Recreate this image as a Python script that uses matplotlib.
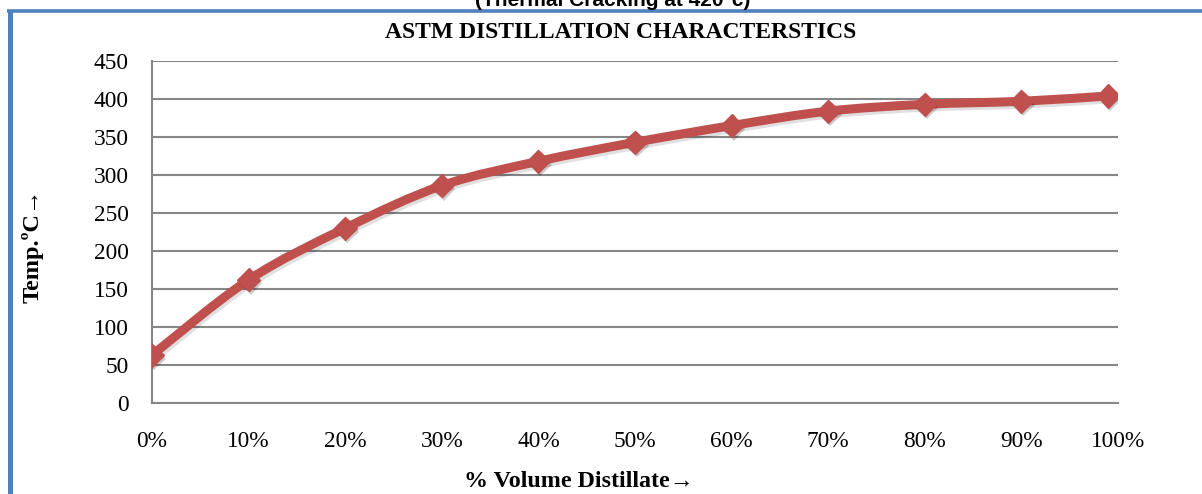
import matplotlib
matplotlib.use("Agg")
import matplotlib.pyplot as plt
from matplotlib.path import Path
from matplotlib.patches import PathPatch
import matplotlib.patheffects as pe
import numpy as np

# Data
volume_pct = [0, 10, 20, 30, 40, 50, 60, 70, 80, 90, 99]
temperature = [63, 162, 230, 286, 318, 343, 365, 384, 393, 397, 404]
x_ticks = [0, 10, 20, 30, 40, 50, 60, 70, 80, 90, 100]
x_tick_labels = ["0%", "10%", "20%", "30%", "40%", "50%", "60%", "70%", "80%", "90%", "100%"]
y_ticks = [0, 50, 100, 150, 200, 250, 300, 350, 400, 450]

LINE_COLOR = "#C0504D"
GRID_COLOR = "#868686"
BORDER_COLOR = "#4F81BD"
SERIF = ["Liberation Serif", "DejaVu Serif"]

W, H = 1202, 494
fig = plt.figure(figsize=(W / 100, H / 100), dpi=100)
fig.patch.set_facecolor("white")

ax = fig.add_axes([152 / W, 1 - 403 / H, (1118 - 152) / W, (403 - 61) / H])
ax.set_xlim(0, 100)
ax.set_ylim(0, 450)
ax.set_yticks(y_ticks)
ax.set_xticks(x_ticks)
ax.set_xticklabels(x_tick_labels)
for lab in ax.get_xticklabels() + ax.get_yticklabels():
    lab.set_fontfamily(SERIF)
    lab.set_fontsize(16.8)
ax.tick_params(axis="both", length=0)
ax.tick_params(axis="y", pad=17)
ax.tick_params(axis="x", pad=20)
ax.grid(axis="y", color=GRID_COLOR, linewidth=1.5)
ax.set_axisbelow(True)
for s in ["top", "right"]:
    ax.spines[s].set_visible(False)
for s in ["left", "bottom"]:
    ax.spines[s].set_color(GRID_COLOR)
    ax.spines[s].set_linewidth(1.5)

# Smoothed line (Excel-style Bezier through data points)
xs = np.array(volume_pct, dtype=float)
ys = np.array(temperature, dtype=float)
pts = np.column_stack([xs, ys])
verts = [tuple(pts[0])]
codes = [Path.MOVETO]
n = len(pts)
for i in range(n - 1):
    p_prev = pts[i - 1] if i > 0 else pts[i]
    p0 = pts[i]
    p1 = pts[i + 1]
    p_next = pts[i + 2] if i + 2 < n else pts[i + 1]
    c1 = p0 + (p1 - p_prev) / 6.0
    c2 = p1 - (p_next - p0) / 6.0
    verts += [tuple(c1), tuple(c2), tuple(p1)]
    codes += [Path.CURVE4] * 3
patch = PathPatch(Path(verts, codes), facecolor="none", edgecolor=LINE_COLOR,
                  linewidth=6.5, capstyle="round", joinstyle="round",
                  transform=ax.transData, zorder=3)
patch.set_path_effects([pe.SimpleLineShadow(offset=(1.5, -2), shadow_color="#000000", alpha=0.12), pe.Normal()])
ax.add_patch(patch)

ax.plot(xs, ys, linestyle="none", marker="D", markersize=11.8,
        markerfacecolor=LINE_COLOR, markeredgecolor=LINE_COLOR, zorder=4,
        path_effects=[pe.SimplePatchShadow(offset=(1.5, -2.5), shadow_rgbFace="#000000", alpha=0.2), pe.Normal()])

# Titles and labels
fig.text(621 / W, 1 - 32 / H, "ASTM DISTILLATION CHARACTERSTICS", ha="center", va="center",
         fontsize=17, fontweight="bold", family=SERIF)
fig.text(613 / W, 1 - 1 / H, "(Thermal Cracking at 420°c)", ha="center", va="center",
         fontsize=15, fontweight="bold", family=["Liberation Sans", "DejaVu Sans"])
fig.text(33 / W, 1 - 246 / H, "Temp.ºC→", ha="center", va="center", rotation=90,
         fontsize=17.5, fontweight="bold", family=SERIF)
fig.text(579 / W, 1 - 481 / H, "% Volume Distillate→", ha="center", va="center",
         fontsize=17.3, fontweight="bold", family=SERIF)

# Blue frame (top and left edges)
fig.add_artist(plt.Line2D([9.5 / W, 9.5 / W], [0, 1 - 11.5 / H], color=BORDER_COLOR, linewidth=3.6,
                          transform=fig.transFigure, solid_capstyle="butt"))
fig.add_artist(plt.Line2D([7 / W, 1], [1 - 11.5 / H, 1 - 11.5 / H], color=BORDER_COLOR, linewidth=2.6,
                          transform=fig.transFigure, solid_capstyle="butt"))

fig.savefig("out.png", dpi=100)
